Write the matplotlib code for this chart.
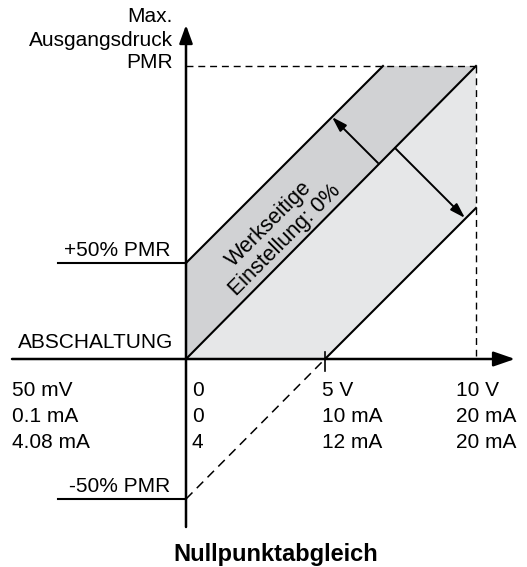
import matplotlib
matplotlib.use("Agg")
import matplotlib.pyplot as plt
from matplotlib.patches import Polygon

plt.rcParams['font.family'] = ['Liberation Sans', 'DejaVu Sans']

# Schematic levels of the diagram (offsets from the origin, in drawing units)
level_names = ["PMR", "+50% PMR", "ABSCHALTUNG", "-50% PMR"]
level_y = [293, 96, 0, -140]
x_tick_pos = [0, 139, 290]          # 0, 5 V, 10 V
col_labels = [
    ["50 mV", "0.1 mA", "4.08 mA"],
    ["0", "0", "4"],
    ["5 V", "10 mA", "12 mA"],
    ["10 V", "20 mA", "20 mA"],
]
y_title = ["Max.", "Ausgangsdruck"]
band_text = "Werkseitige\nEinstellung: 0%"
title = "Nullpunktabgleich"

y_pmr, y_p50, y_0, y_m50 = level_y
x0, x5, x10 = x_tick_pos

DARK = "#d1d2d4"
LIGHT = "#e6e7e8"
FS = 15

fig = plt.figure(figsize=(5.27, 5.67), dpi=100)
ax = fig.add_axes([0, 0, 1, 1])
ax.set_xlim(-186, 341)
ax.set_ylim(-208, 359)
ax.axis("off")

# slopes: upper and lower lines at 45 deg
x_up_end = y_pmr - y_p50
y_low_end = x10 - x5

# filled bands
ax.add_patch(Polygon([(x0, y_0), (x0, y_p50), (x_up_end, y_pmr), (x10, y_pmr)],
                     closed=True, fc=DARK, ec="none", zorder=1))
ax.add_patch(Polygon([(x0, y_0), (x10, y_pmr), (x10, y_low_end), (x5, y_0)],
                     closed=True, fc=LIGHT, ec="none", zorder=1))

lw = 1.5
# diagonal lines
ax.plot([x0, x_up_end], [y_p50, y_pmr], color="black", lw=lw, zorder=3)
ax.plot([x0, x10], [y_0, y_pmr], color="black", lw=lw, zorder=3)
ax.plot([x5, x10], [y_0, y_low_end], color="black", lw=lw, zorder=3)
ax.plot([x0, x5], [y_m50, y_0], color="black", lw=1.1, ls=(0, (6, 4)), zorder=3)

# dashed reference lines
ax.plot([x0, x10], [y_pmr, y_pmr], color="black", lw=1.0, ls=(0, (5, 3.5)), zorder=2)
ax.plot([x10, x10], [y_pmr, y_0 + 3], color="black", lw=1.0, ls=(0, (5, 3.5)), zorder=2)

# level stubs on the left
ax.plot([-128, x0], [y_p50, y_p50], color="black", lw=lw, zorder=3)
ax.plot([-128, x0], [y_m50, y_m50], color="black", lw=lw, zorder=3)

# axes with arrows
ax.annotate("", xy=(329, y_0), xytext=(-174, y_0),
            arrowprops=dict(arrowstyle="-|>,head_length=1.3,head_width=0.45",
                            color="black", lw=1.8, shrinkA=0, shrinkB=0), zorder=4)
ax.annotate("", xy=(x0, 334), xytext=(x0, -168),
            arrowprops=dict(arrowstyle="-|>,head_length=1.1,head_width=0.4",
                            color="black", lw=1.8, shrinkA=0, shrinkB=0), zorder=4)
# tick at 5 V
ax.plot([x5, x5], [y_0 + 7, y_0 - 12], color="black", lw=1.2, zorder=4)

# double arrows (adjustment range)
ax.annotate("", xy=(146, 242), xytext=(192, 196),
            arrowprops=dict(arrowstyle="-|>,head_length=0.9,head_width=0.28",
                            color="black", lw=1.4, shrinkA=0, shrinkB=0), zorder=4)
ax.annotate("", xy=(279, 141), xytext=(209, 211),
            arrowprops=dict(arrowstyle="-|>,head_length=0.9,head_width=0.28",
                            color="black", lw=1.4, shrinkA=0, shrinkB=0), zorder=4)

# y-axis title
ax.text(-13, 343, y_title[0], ha="right", va="center", fontsize=FS)
ax.text(-13, 319, y_title[1], ha="right", va="center", fontsize=FS)

# level labels
ax.text(-13, y_pmr + 3, level_names[0], ha="right", va="center", fontsize=FS)
ax.text(-16, y_p50 + 13, level_names[1], ha="right", va="center", fontsize=FS)
ax.text(-13, y_0 + 16, level_names[2], ha="right", va="center", fontsize=FS)
ax.text(-16, y_m50 + 12, level_names[3], ha="right", va="center", fontsize=FS)

# tick label columns
col_x = [-174, 6, 136, 270]
row_y = [-31, -58, -84]
for cx, labels in zip(col_x, col_labels):
    for ry, lab in zip(row_y, labels):
        ax.text(cx, ry, lab, ha="left", va="center", fontsize=FS)

# band annotation
ax.text(91, 127, band_text, ha="center", va="center", rotation=45,
        rotation_mode="anchor", fontsize=15.5, linespacing=1.1)

# title
ax.text(90, -196, title, ha="center", va="center", fontsize=17, fontweight="bold")

fig.savefig("out.png", dpi=100)
